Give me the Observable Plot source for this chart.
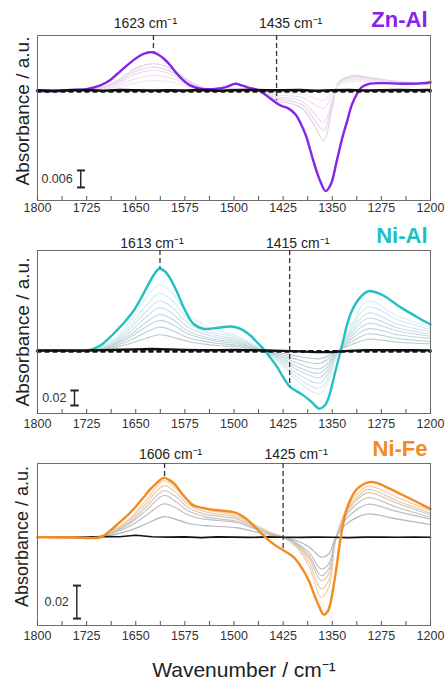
<!DOCTYPE html>
<html><head><meta charset="utf-8">
<script src="https://cdn.jsdelivr.net/npm/d3@7"></script>
<script src="https://cdn.jsdelivr.net/npm/@observablehq/plot@0.6"></script>
<style>
body{margin:0;background:#fff;}
#chart{width:447px;height:684px;overflow:hidden;}
#chart svg{display:block;}
</style></head>
<body><div id="chart"></div>
<script>
// ---------- axis ticks ----------
const tickMarks = [1800,1762.5,1725,1687.5,1650,1612.5,1575,1537.5,1500,1462.5,1425,1387.5,1350,1312.5,1275,1237.5,1200];
const tickLabels = [1800,1725,1650,1575,1500,1425,1350,1275,1200];

// ---------- Zn-Al ----------
const znBold = [[1800,-0.0002],[1770,-0.0002],[1750,0.0002],[1725,0.0005],[1704,0.0018],[1690,0.0035],[1678,0.0059],[1665,0.0085],[1653,0.0108],[1641,0.0126],[1631,0.0134],[1624,0.0135],[1616,0.0127],[1607,0.0112],[1597,0.0088],[1587,0.0059],[1577,0.0035],[1567,0.0018],[1551,0.0006],[1526,0.0006],[1510,0.0014],[1498,0.0024],[1488,0.0018],[1478,0.0010],[1462,0.0000],[1444,-0.0029],[1429,-0.0053],[1417,-0.0063],[1406,-0.0085],[1398,-0.0117],[1390,-0.0160],[1379,-0.0247],[1370,-0.0310],[1360,-0.0355],[1352,-0.0330],[1343,-0.0247],[1335,-0.0170],[1327,-0.0106],[1320,-0.0050],[1312,-0.0011],[1305,0.0012],[1292,0.0024],[1270,0.0026],[1246,0.0024],[1215,0.0025],[1200,0.0029]];
const znFaintWn = [1800,1740,1700,1675,1650,1627,1610,1590,1570,1550,1520,1500,1470,1450,1435,1415,1395,1378,1363,1350,1340,1320,1290,1250,1200];
const znFaint = [
  [0,0,0.0012,0.0040,0.0078,0.0094,0.0090,0.0068,0.0035,0.0012,0.0003,0.0008,0.0002,-0.0015,-0.0035,-0.0045,-0.0065,-0.0120,-0.0177,-0.0060,0.0030,0.0052,0.0045,0.0032,0.0026],
  [0,0,0.0010,0.0034,0.0068,0.0082,0.0078,0.0060,0.0030,0.0010,0.0003,0.0006,0.0001,-0.0012,-0.0028,-0.0036,-0.0052,-0.0100,-0.0141,-0.0045,0.0028,0.0048,0.0042,0.0030,0.0024],
  [0,0,0.0008,0.0028,0.0058,0.0071,0.0068,0.0052,0.0026,0.0009,0.0002,0.0005,0.0001,-0.0009,-0.0022,-0.0028,-0.0040,-0.0080,-0.0113,-0.0035,0.0025,0.0044,0.0040,0.0028,0.0022],
  [0,0,0.0006,0.0020,0.0042,0.0053,0.0051,0.0040,0.0020,0.0007,0.0002,0.0003,0,-0.0006,-0.0015,-0.0019,-0.0025,-0.0048,-0.0064,-0.0015,0.0022,0.0038,0.0035,0.0025,0.0020],
  [0,0,0.0004,0.0013,0.0027,0.0035,0.0034,0.0027,0.0014,0.0005,0.0001,0.0002,0,-0.0003,-0.0008,-0.0010,-0.0014,-0.0026,-0.0035,-0.0005,0.0018,0.0032,0.0030,0.0022,0.0018]
];
const blackWn = [1800,1775,1750,1725,1700,1675,1650,1625,1600,1575,1550,1525,1500,1475,1450,1425,1400,1375,1350,1325,1300,1275,1250,1225,1200];
const znBlack = [0.0001,-0.0001,0.0001,0.0002,-0.0001,0.0002,0.0001,0,0.0001,0,0.0002,-0.0001,0.0001,0.0002,0.0001,0.0001,0.0002,-0.0001,0.0001,0.0002,0,0.0001,0.0002,0.0001,0.0002];
const znPeaks = [1623,1435];
const znPeakEnds = [0.0135,-0.0035];

// ---------- Ni-Al ----------
const nialBold = [[1800,0],[1760,0],[1724,0],[1704,0.0067],[1690,0.017],[1679,0.0267],[1666,0.039],[1653,0.0533],[1643,0.068],[1633,0.0844],[1623,0.100],[1614,0.109],[1605,0.105],[1597,0.0955],[1587,0.078],[1577,0.0578],[1562,0.0355],[1546,0.0289],[1526,0.0302],[1505,0.032],[1490,0.0289],[1475,0.020],[1465,0.011],[1455,0.0022],[1445,-0.009],[1434,-0.0222],[1424,-0.037],[1414,-0.0489],[1398,-0.0575],[1383,-0.0675],[1370,-0.0775],[1362,-0.074],[1356,-0.064],[1345,-0.027],[1337,0],[1322,0.0489],[1307,0.0711],[1295,0.079],[1285,0.078],[1272,0.0733],[1246,0.0578],[1220,0.0444],[1200,0.0347]];
const nialFaintWn = [1800,1725,1690,1660,1635,1614,1595,1570,1530,1495,1460,1430,1400,1368,1340,1320,1295,1250,1200];
const nialFaint = [
  [0,0,0.011,0.037,0.069,0.088,0.077,0.048,0.028,0.019,0.003,-0.017,-0.043,-0.057,0,0.036,0.066,0.046,0.031],
  [0,0,0.009,0.032,0.059,0.076,0.067,0.042,0.024,0.017,0.002,-0.015,-0.038,-0.050,0,0.032,0.058,0.041,0.028],
  [0,0,0.008,0.028,0.051,0.066,0.058,0.036,0.021,0.015,0.002,-0.013,-0.033,-0.043,0,0.028,0.050,0.035,0.025],
  [0,0,0.007,0.024,0.044,0.057,0.050,0.031,0.018,0.013,0.002,-0.011,-0.027,-0.036,0,0.024,0.043,0.030,0.022],
  [0,0,0.006,0.020,0.037,0.048,0.042,0.026,0.015,0.011,0.001,-0.009,-0.023,-0.030,0,0.020,0.036,0.026,0.019],
  [0,0,0.005,0.017,0.031,0.040,0.035,0.022,0.013,0.009,0.001,-0.007,-0.018,-0.024,0,0.016,0.029,0.021,0.016],
  [0,0,0.004,0.013,0.024,0.031,0.027,0.017,0.010,0.007,0.001,-0.005,-0.013,-0.017,0,0.012,0.022,0.016,0.012],
  [0,0,0.003,0.009,0.016,0.021,0.018,0.012,0.007,0.005,0.001,-0.003,-0.008,-0.011,0,0.008,0.015,0.011,0.009]
];
const nialBlack = [0,0,0,0,0.0005,0.001,0.0015,0.002,0.0015,0.0008,0.0004,0.0005,0.0008,0.0005,0,-0.0005,-0.0012,-0.0022,-0.002,-0.0005,0.0005,0.0005,0.0003,0.0003,0.0002];
const nialPeaks = [1613,1415];
const nialPeakEnds = [0.109,-0.049];

// ---------- Ni-Fe ----------
const nifeBold = [[1800,0],[1750,0],[1704,0],[1689,0.004],[1676,0.0085],[1663,0.0131],[1650,0.0185],[1638,0.0242],[1628,0.029],[1617,0.0333],[1607,0.036],[1599,0.0348],[1591,0.0323],[1577,0.0253],[1562,0.0192],[1550,0.018],[1541,0.0172],[1521,0.0162],[1501,0.0152],[1490,0.0135],[1481,0.0111],[1470,0.007],[1460,0.003],[1440,-0.004],[1424,-0.0081],[1409,-0.0121],[1394,-0.0202],[1385,-0.027],[1378,-0.0343],[1370,-0.042],[1363,-0.0469],[1357,-0.045],[1353,-0.0404],[1345,-0.0222],[1337,0],[1327,0.0182],[1312,0.0293],[1295,0.0333],[1285,0.0333],[1272,0.0313],[1246,0.0263],[1220,0.0212],[1200,0.0172]];
const nifeFaintWn = [1800,1710,1690,1660,1635,1607,1590,1570,1545,1520,1495,1470,1445,1425,1405,1385,1367,1355,1345,1330,1310,1295,1250,1200];
const nifeFaint = [
  [0,0,0.003,0.011,0.022,0.0343,0.030,0.022,0.017,0.015,0.013,0.008,0.003,0,-0.006,-0.018,-0.0364,-0.030,-0.002,0.016,0.027,0.031,0.024,0.016],
  [0,0,0.0027,0.010,0.020,0.0313,0.0275,0.020,0.0155,0.0137,0.012,0.0073,0.0027,0,-0.005,-0.0155,-0.0313,-0.026,-0.002,0.015,0.025,0.029,0.022,0.0145],
  [0,0,0.0024,0.009,0.018,0.0283,0.025,0.018,0.014,0.0125,0.011,0.0067,0.0025,0,-0.0045,-0.013,-0.0263,-0.022,-0.0015,0.014,0.0235,0.027,0.0205,0.0135],
  [0,0,0.002,0.008,0.016,0.0253,0.022,0.016,0.0125,0.011,0.0097,0.006,0.0022,0,-0.004,-0.0115,-0.0232,-0.019,-0.0013,0.0125,0.021,0.024,0.018,0.012],
  [0,0,0.0017,0.0065,0.013,0.0202,0.018,0.0135,0.011,0.010,0.0088,0.0053,0.002,0,-0.0033,-0.0095,-0.0192,-0.016,-0.001,0.0105,0.0175,0.020,0.0155,0.011],
  [0,0,0.001,0.004,0.008,0.0125,0.011,0.0085,0.007,0.0065,0.0057,0.0035,0.0013,0,-0.002,-0.006,-0.0121,-0.010,-0.0005,0.0075,0.0125,0.0141,0.011,0.0077]
];
const nifeBlack = [0,0.0002,0,0.0001,0.0004,0.0003,0.0012,0.0003,0.0001,0.0002,-0.0002,0.0002,0.0001,-0.0001,0.0002,0,-0.0001,0.0001,0,-0.0002,0.0001,0.0001,0,0.0001,0];
const nifePeaks = [1606,1425];
const nifePeakEnds = [0.036,-0.008];

// ---------- render ----------
const FONT = "'Liberation Sans', Arial, Helvetica, sans-serif";

function panel(cfg) {
  const innerH = cfg.height - cfg.mt - cfg.mb;
  const faintData = cfg.faint.flatMap((vals, i) => vals.map((v, j) => ({wn: cfg.faintWn[j], a: v, s: i})));
  const bold = cfg.bold.map(([wn, a]) => ({wn, a}));
  const black = cfg.black.map((a, i) => ({wn: blackWn[i], a}));
  const marks = [
    Plot.line(faintData, {x: "wn", y: "a", z: "s", stroke: d => cfg.faintColors[d.s], strokeWidth: 1.2, curve: "catmull-rom"}),
  ];
  if (cfg.blackUnder) {
    marks.push(Plot.line(black, {x: "wn", y: "a", stroke: "#111", strokeWidth: cfg.blackW}));
    marks.push(Plot.line(bold, {x: "wn", y: "a", stroke: cfg.color, strokeWidth: 2.4, curve: "catmull-rom"}));
  } else {
    marks.push(Plot.line(bold, {x: "wn", y: "a", stroke: cfg.color, strokeWidth: 2.4, curve: "catmull-rom"}));
    marks.push(Plot.line(black, {x: "wn", y: "a", stroke: "#111", strokeWidth: cfg.blackW}));
    marks.push(Plot.line([{wn: 1800, a: cfg.dashOff}, {wn: 1200, a: cfg.dashOff}], {x: "wn", y: "a", stroke: "#111", strokeWidth: 2.6, strokeDasharray: "3,5"}));
  }
  marks.push(
    Plot.frame({stroke: "#6e6e6e", strokeWidth: 1}),
    Plot.ruleX(tickMarks, {stroke: "#555", strokeWidth: 1, insetTop: innerH - 4}),
    Plot.axisX(tickLabels, {tickSize: 0, tickPadding: cfg.tp, fontSize: 12.5, fill: "#333", label: null, tickFormat: d => String(d)}),
    Plot.ruleX(cfg.peaks.map((p, i) => ({p, e: cfg.peakEnds[i]})), {x: "p", y1: cfg.yDomain[1], y2: "e", stroke: "#333", strokeWidth: 1.3, strokeDasharray: "5,3"}),
  );
  cfg.peaks.forEach((p, i) => {
    marks.push(Plot.text([p], {x: d => d, frameAnchor: "top", text: d => `${d} cm⁻¹`, dx: cfg.labelDx[i], dy: cfg.labelDy, lineAnchor: "bottom", textAnchor: "middle", fontSize: 14, fill: "#222"}));
  });
  marks.push(
    Plot.link([cfg.bar], {x1: d => d.x, x2: d => d.x, y1: d => d.y0, y2: d => d.y0 + d.len, stroke: "#222", strokeWidth: 1.4, markerStart: "tick", markerEnd: "tick"}),
    Plot.text([cfg.bar], {x: d => d.x, y: d => d.y0 + d.len / 2, text: d => d.label, textAnchor: "end", dx: -8, fontSize: 12.5, fill: "#333"}),
    Plot.text([cfg.title], {frameAnchor: "top-right", textAnchor: "end", lineAnchor: "bottom", dx: -3, dy: cfg.titleDy, fontSize: 22, fontWeight: "bold", fill: cfg.titleColor}),
    Plot.text(["Absorbance / a.u."], {frameAnchor: "left", rotate: -90, textAnchor: "middle", lineAnchor: "middle", dx: -15, dy: cfg.ylabDy, fontSize: cfg.ylabSize, fill: "#222"})
  );
  if (cfg.xlabel) {
    marks.push(Plot.text([cfg.xlabel], {frameAnchor: "bottom", textAnchor: "middle", lineAnchor: "bottom", dx: 10, dy: 51, fontSize: 21, fill: "#222"}));
  }
  return Plot.plot({
    width: 447, height: cfg.height,
    marginTop: cfg.mt, marginBottom: cfg.mb, marginLeft: 37, marginRight: 17,
    x: {domain: [1800, 1200]},
    y: {domain: cfg.yDomain, axis: null},
    style: {fontFamily: FONT, background: "#fff", overflow: "visible"},
    marks
  });
}

const chart = document.getElementById("chart");
chart.append(panel({
  height: 220, mt: 35, mb: 20, tp: 3, yDomain: [-0.0388, 0.0194],
  bold: znBold, faint: znFaint, faintWn: znFaintWn, black: znBlack,
  faintColors: ["#e2d0e5", "#e6d6e9", "#eadcec", "#eee2ef", "#f1e8f2"],
  color: "#8424e6", titleColor: "#8a22e8", title: "Zn-Al", blackW: 2.4, dashOff: -0.0003,
  peaks: znPeaks, peakEnds: znPeakEnds, labelDx: [-8, 14], labelDy: -8, titleDy: -9,
  bar: {x: 1734, y0: -0.0342, len: 0.006, label: "0.006"}, ylabDy: -7, ylabSize: 19
}));
chart.append(panel({
  height: 220, mt: 30, mb: 27, tp: 6, yDomain: [-0.084, 0.1333],
  bold: nialBold, faint: nialFaint, faintWn: nialFaintWn, black: nialBlack,
  faintColors: ["#dbf0f3", "#d5ebef", "#cfe5ea", "#c9dfe5", "#c4d9e0", "#c0d4dc", "#bccfd7", "#b8cbd3"],
  color: "#22c1c1", titleColor: "#1dbfc6", title: "Ni-Al", blackW: 2.4, dashOff: -0.0012,
  peaks: nialPeaks, peakEnds: nialPeakEnds, labelDx: [-8, 8], labelDy: -3, titleDy: -8,
  bar: {x: 1743.5, y0: -0.0733, len: 0.02, label: "0.02"}, ylabDy: 0, ylabSize: 19
}));
chart.append(panel({
  height: 244, mt: 23, mb: 59, tp: 6, yDomain: [-0.0535, 0.0447],
  bold: nifeBold, faint: nifeFaint, faintWn: nifeFaintWn, black: nifeBlack, blackUnder: true,
  faintColors: ["#f3cfa6", "#e9cdb3", "#d9c7bb", "#c9c3bf", "#bebebe", "#b5b5b5"],
  color: "#f58a1f", titleColor: "#f58a1f", title: "Ni-Fe", blackW: 1.7,
  peaks: nifePeaks, peakEnds: nifePeakEnds, labelDx: [6, 13], labelDy: -5, titleDy: -8,
  bar: {x: 1740, y0: -0.0493, len: 0.02, label: "0.02"}, ylabDy: -8, ylabSize: 18,
  xlabel: "Wavenumber / cm⁻¹"
}));
</script>
</body></html>
